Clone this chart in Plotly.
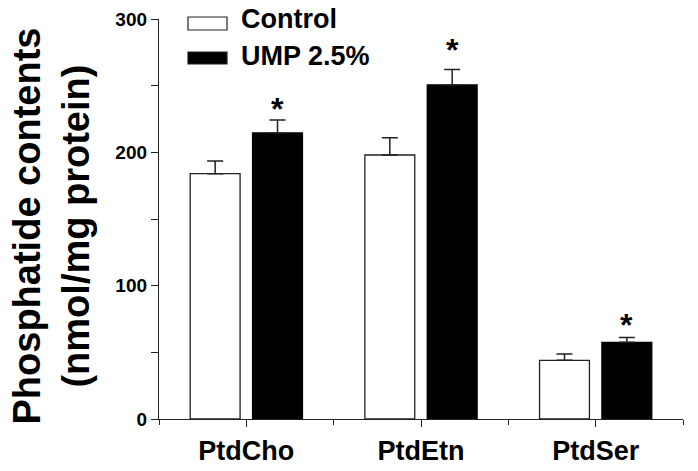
import plotly.graph_objects as go

categories = ["PtdCho", "PtdEtn", "PtdSer"]
control = [184, 198, 44]
control_err = [9.5, 13, 4.7]
ump = [214.5, 250.5, 57.5]
ump_err = [9.8, 11.6, 3.7]
star_y = [237, 281, 75]
y_ticks = [0, 100, 200, 300]

W, H = 698, 471
L, R, T, B = 159, 683, 19, 419
FONT = "Liberation Sans, Arial, sans-serif"

def px(x):
    return (x - L) / (R - L)

def py(y):
    return (B - y) / (B - T)

xpos = list(range(len(categories)))

fig = go.Figure()
fig.add_trace(go.Bar(
    x=xpos, y=control, name="Control",
    marker=dict(color="white", line=dict(color="#222", width=1.3)),
    error_y=dict(type="data", array=control_err, arrayminus=[0]*3, symmetric=False,
                 color="#222", thickness=1.5, width=8),
    showlegend=False,
))
fig.add_trace(go.Bar(
    x=xpos, y=ump, name="UMP 2.5%",
    marker=dict(color="black", line=dict(color="#000", width=1.3)),
    error_y=dict(type="data", array=ump_err, arrayminus=[0]*3, symmetric=False,
                 color="#222", thickness=1.5, width=8),
    showlegend=False,
))

fig.update_layout(
    width=W, height=H,
    margin=dict(l=L, r=W - R, t=T, b=H - B, pad=0, autoexpand=False),
    paper_bgcolor="white", plot_bgcolor="white",
    barmode="group", bargap=0.286, bargroupgap=0.2,
    font=dict(family=FONT, color="black"),
)
fig.update_xaxes(
    automargin=False,
    range=[-0.5, 2.5], tickmode="array", tickvals=xpos, ticktext=categories,
    showgrid=False, zeroline=False, showline=True, linecolor="#222", linewidth=1.3,
    ticks="outside", ticklen=7, tickwidth=1.3, tickcolor="#222",
    tickfont=dict(family=FONT, size=27, color="black", weight="bold"),
    minor=dict(tickmode="linear", tick0=-0.5, dtick=1, ticks="outside", ticklen=5,
               tickwidth=1.3, tickcolor="#222", showgrid=False),
)
fig.update_yaxes(
    automargin=False,
    range=[0, 300], tickmode="array", tickvals=y_ticks,
    showgrid=False, zeroline=False, showline=True, linecolor="#222", linewidth=1.3,
    ticks="outside", ticklen=7, tickwidth=1.3, tickcolor="#222",
    tickfont=dict(family=FONT, size=19, color="black", weight="bold"),
    minor=dict(tickmode="linear", tick0=0, dtick=50, ticks="outside", ticklen=7,
               tickwidth=1.3, tickcolor="#222", showgrid=False),
)

# y-axis title
fig.add_annotation(
    xref="paper", yref="paper", x=px(3), y=py(226), xanchor="left", yanchor="middle",
    text="Phosphatide contents<br>(nmol/mg protein)", textangle=-90, showarrow=False,
    font=dict(family=FONT, size=38, color="black", weight="bold"),
)

# significance stars above UMP bars
for i, sy in enumerate(star_y):
    fig.add_annotation(
        xref="x", yref="y", x=i + 0.1785, y=sy, text="*", showarrow=False,
        xanchor="center", yanchor="middle", yshift=-6,
        font=dict(family=FONT, size=32, color="black", weight="bold"),
    )

# legend (manual)
legend_items = [("Control", "white", 17, 30, 19), ("UMP 2.5%", "black", 52, 64, 56)]
for label, color, y0, y1, yc in legend_items:
    fig.add_shape(type="rect", xref="paper", yref="paper",
                  x0=px(188), x1=px(227), y0=py(y1), y1=py(y0),
                  fillcolor=color, line=dict(color="#222", width=1.2))
    fig.add_annotation(
        xref="paper", yref="paper", x=px(239), y=py(yc), xanchor="left", yanchor="middle",
        text=label, showarrow=False,
        font=dict(family=FONT, size=27, color="black", weight="bold"),
    )

fig.write_html("out.html",
               config={"displayModeBar": False},
               post_script="document.body.style.margin='0';document.body.style.padding='0';")
